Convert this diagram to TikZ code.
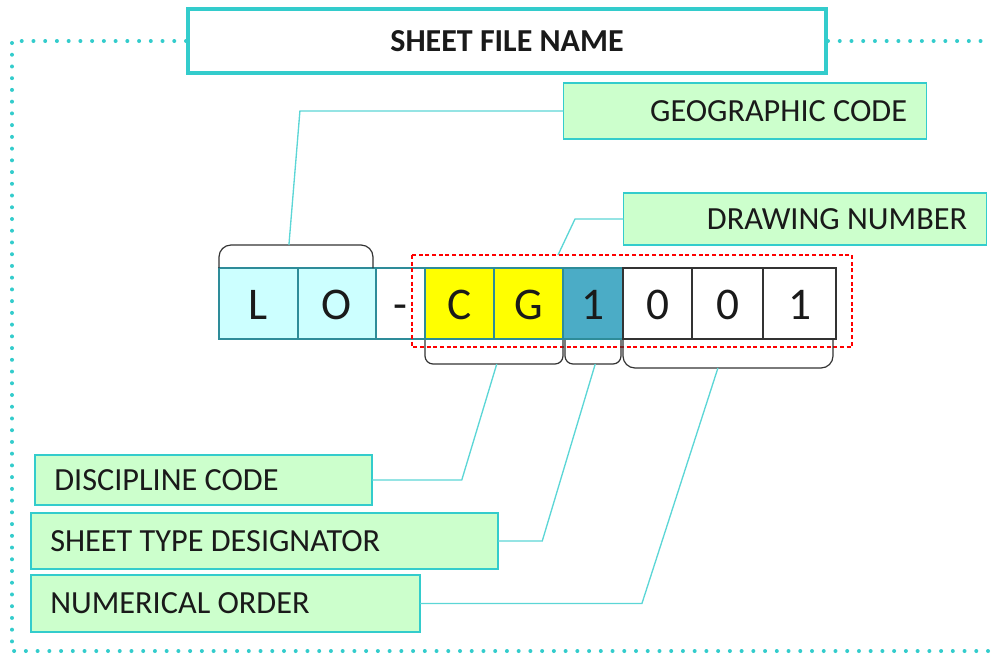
\documentclass[tikz,border=0pt]{standalone}
\usepackage{fontspec}
\setmainfont{Carlito}
\usetikzlibrary{positioning,calc}
\definecolor{frameteal}{HTML}{33CCCC}
\definecolor{leaderteal}{HTML}{5CD6D6}
\definecolor{labelgreen}{HTML}{CCFFCC}
\definecolor{labeltext}{HTML}{1A1A1A}
\definecolor{cellcyan}{HTML}{CCFFFF}
\definecolor{cellyellow}{HTML}{FFFF00}
\definecolor{celldark}{HTML}{4BACC6}
\definecolor{cellrule}{HTML}{2E8C99}
\definecolor{bracegray}{HTML}{333333}
\tikzset{lbl/.style={draw=frameteal, line width=1pt, fill=labelgreen, inner xsep=14.5pt, inner ysep=0pt, outer sep=0pt, text=labeltext, font=\fontsize{24.2}{29}\selectfont}}
\tikzset{lblright/.style={lbl, text width=#1, align=flush right}}
\tikzset{lblleft/.style={lbl, text width=#1, align=flush left}}
\tikzset{cell/.style={minimum height=53.25pt, text height=24pt, text depth=0pt, inner sep=0pt, outer sep=0pt, line width=1pt, text=labeltext, font=\fontsize{34}{40}\selectfont}}
\tikzset{brace/.style={draw=bracegray, line width=0.9pt, rounded corners=6pt}}
\tikzset{leader/.style={draw=leaderteal, line width=1pt}}
\tikzset{dotframe/.style={draw=frameteal, line width=3pt, line cap=round, dash pattern=on 0pt off 8.8pt}}
\tikzset{redbox/.style={draw=red, densely dashed, line width=0.9pt}}
\begin{document}
\begin{tikzpicture}[x=0.75pt, y=-0.75pt]
\useasboundingbox (0,0) rectangle (991,654);

% title and the dotted frame hanging from it
\node[draw=frameteal, line width=3pt, fill=white, minimum width=478.5pt, minimum height=48pt, inner sep=0pt,
      text=labeltext, font=\bfseries\fontsize{24}{29}\selectfont] (title) at (507,41) {SHEET FILE NAME};
\coordinate (fNW) at (12,41);
\coordinate (fSW) at (12,651);
\coordinate (fSE) at (991,651);
\coordinate (fNE) at (991,41);
\draw[dotframe] (title.west) -- (fNW) -- (fSW) -- (fSE);
\draw[dotframe] (title.east) -- (fNE);

% the characters of the file name
\node[cell, draw=cellrule, fill=cellcyan, minimum width=59.25pt] (cL) at (258.5,303.5) {L};
\node[cell, draw=cellrule, fill=cellcyan, minimum width=58.5pt, right=0pt of cL] (cO) {O};
\node[cell, draw=cellrule, fill=white, minimum width=36.75pt, right=0pt of cO] (cDash) {-};
\node[cell, draw=cellrule, fill=cellyellow, minimum width=51.75pt, right=0pt of cDash] (cC) {C};
\node[cell, draw=cellrule, fill=cellyellow, minimum width=51.75pt, right=0pt of cC] (cG) {G};
\node[cell, draw=cellrule, fill=celldark, minimum width=45pt, right=0pt of cG] (cT) {1};
\node[cell, draw=bracegray, fill=white, minimum width=51.75pt, right=0pt of cT] (cN1) {0};
\node[cell, draw=bracegray, fill=white, minimum width=53.25pt, right=0pt of cN1] (cN2) {0};
\node[cell, draw=bracegray, fill=white, minimum width=54.75pt, right=0pt of cN2] (cN3) {1};

% drawing number group
\coordinate (rbNW) at ($(cC.north west)+(-13,-13)$);
\coordinate (rbSE) at ($(cN3.south east)+(16,8)$);
\draw[redbox] (rbNW) rectangle (rbSE);
\coordinate (dnTip) at ($(rbNW)+(146,0)$);

% brackets
\draw[brace, rounded corners=9pt] (cL.north west) -- ++(0,-23) -| coordinate[pos=0.227] (geoTip) ($(cO.north east)+(-3,0)$);
\draw[brace] ($(cC.south west)+(0,1)$) -- ++(0,24) -| coordinate[pos=0.26] (discTip) ($(cG.south east)+(0,1)$);
\draw[brace] ($(cT.south west)+(2,1)$) -- ++(0,24) -| coordinate[pos=0.27] (typeTip) ($(cT.south east)+(-2,1)$);
\draw[brace, rounded corners=9pt] ($(cN1.south west)+(0,1)$) -- ++(0,28) -| coordinate[pos=0.226] (numTip) ($(cN3.south east)+(-3,1)$);

% labels
\node[lblright=243pt, minimum height=42pt] (geo) at (745,111) {GEOGRAPHIC CODE};
\node[lblright=243pt, minimum height=39pt] (drawno) at (805,219) {DRAWING NUMBER};
\node[lblleft=223.75pt, minimum height=37.5pt] (disc) at (203.5,480) {DISCIPLINE CODE};
\node[lblleft=321.25pt, minimum height=42pt] (stype) at (264.5,541) {SHEET TYPE DESIGNATOR};
\node[lblleft=262.75pt, minimum height=42.75pt] (order) at (225.5,603.5) {NUMERICAL ORDER};

% leader lines
\coordinate (geoBend) at ($(geoTip)+(11,0)$);
\coordinate (dnBend) at ($(dnTip)+(17,0)$);
\coordinate (discBend) at ($(discTip)+(-35,0)$);
\coordinate (typeBend) at ($(typeTip)+(-53,0)$);
\coordinate (numBend) at ($(numTip)+(-76,0)$);
\draw[leader] (geoTip) -- (geoBend |- geo.west) -- (geo.west);
\draw[leader] (dnTip) -- (dnBend |- drawno.west) -- (drawno.west);
\draw[leader] (discTip) -- (discBend |- disc.east) -- (disc.east);
\draw[leader] (typeTip) -- (typeBend |- stype.east) -- (stype.east);
\draw[leader] (numTip) -- (numBend |- order.east) -- (order.east);
\end{tikzpicture}
\end{document}
